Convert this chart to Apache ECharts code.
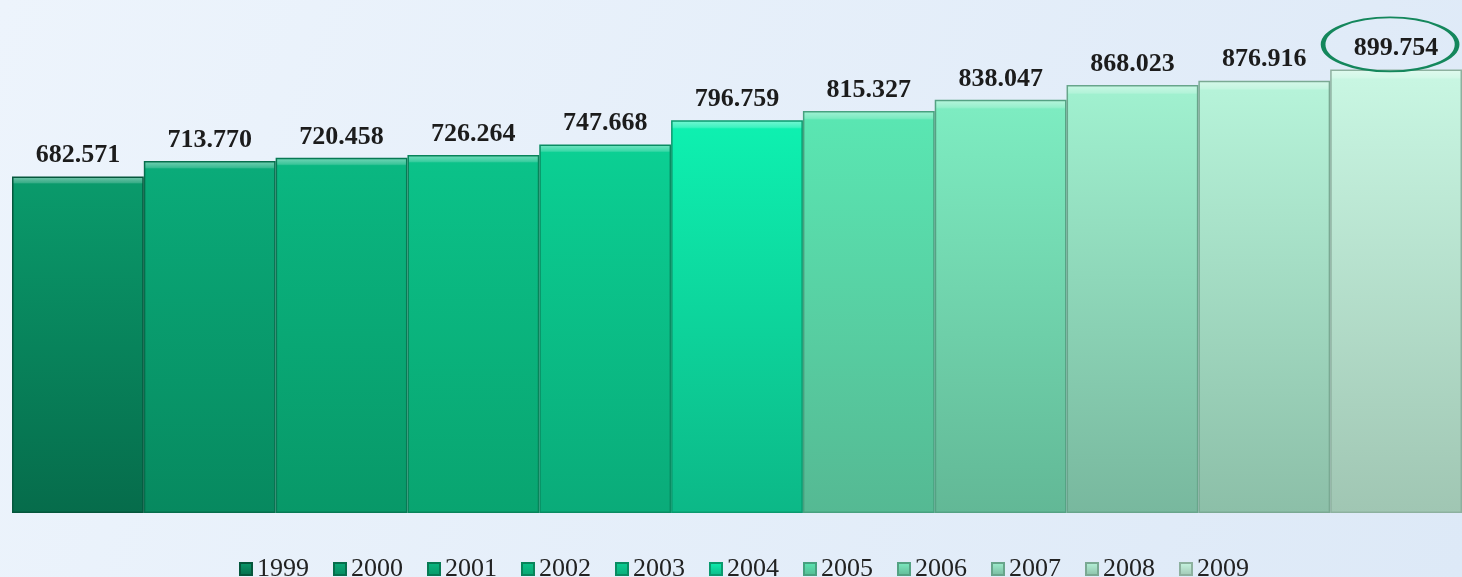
<!DOCTYPE html>
<html><head><meta charset="utf-8">
<script src="https://cdn.jsdelivr.net/npm/echarts@6/dist/echarts.min.js"></script>
<style>html,body{margin:0;padding:0;}#c{width:1462px;height:577px;}</style>
</head><body><div id="c"></div>
<script>
const years = ['1999','2000','2001','2002','2003','2004','2005','2006','2007','2008','2009'];
const values = [682.571, 713.770, 720.458, 726.264, 747.668, 796.759, 815.327, 838.047, 868.023, 876.916, 899.754];
const topColors = ['#0a9a6b','#0aab79','#0ab781','#0bc289','#0bcf93','#0ef0b0','#5ae6b2','#7decc1','#a0f0cf','#b6f3d9','#c8f6e2'];
const bottomColors = ['#066c4b','#07895f','#089868','#09a470','#0aab79','#0cb887','#55b993','#62b896','#78b89e','#8cbfa8','#a0c6b3'];
const edgeColors = ['#05573c','#066e4c','#077a54','#08845a','#098c62','#0a9a6e','#47a17f','#54a283','#68a58b','#7aa993','#8db19f'];

function lighten(hex, t) {
  const n = parseInt(hex.slice(1), 16);
  const r = (n >> 16) & 255, g = (n >> 8) & 255, b = n & 255;
  const f = c => Math.round(c + (255 - c) * t);
  return 'rgb(' + f(r) + ',' + f(g) + ',' + f(b) + ')';
}

const series = years.map((y, i) => ({
  name: y,
  type: 'bar',
  stack: 'all',
  barCategoryGap: 0,
  data: years.map((_, j) => j === i ? values[i] : '-'),
  itemStyle: {
    color: new echarts.graphic.LinearGradient(0, 0, 0, 1, [
      {offset: 0, color: lighten(topColors[i], 0.45)},
      {offset: 0.018, color: lighten(topColors[i], 0.2)},
      {offset: 0.022, color: topColors[i]},
      {offset: 1, color: bottomColors[i]}
    ]),
    borderColor: edgeColors[i],
    borderWidth: 1.5
  },
  label: {
    show: true, position: 'top', distance: 8,
    fontFamily: '"Liberation Serif", serif', fontWeight: 'bold', fontSize: 26, color: '#1c1c1c',
    formatter: p => p.value.toFixed(3)
  },
  markPoint: i === years.length - 1 ? {
    symbol: 'circle', symbolSize: [134, 54], symbolOffset: [-6, -25],
    itemStyle: {color: 'rgba(0,0,0,0)', borderColor: '#14875c', borderWidth: 3},
    label: {show: false},
    data: [{coord: [y, values[i]]}]
  } : undefined
}));

const chart = echarts.init(document.getElementById('c'));
chart.setOption({
  backgroundColor: new echarts.graphic.LinearGradient(0, 0, 1, 1, [
    {offset: 0, color: '#edf4fc'},
    {offset: 1, color: '#dde9f7'}
  ]),
  animation: false,
  grid: {left: 12, right: 0, top: 20, bottom: 64},
  xAxis: {type: 'category', data: years, show: false},
  yAxis: {type: 'value', min: 0, max: 1000, show: false},
  legend: {
    top: 551, left: 234, itemWidth: 12, itemHeight: 12, itemGap: 24,
    icon: 'rect',
    textStyle: {fontFamily: '"Liberation Serif", serif', fontSize: 26, color: '#222'},
    data: years
  },
  series: series
});
</script></body></html>
